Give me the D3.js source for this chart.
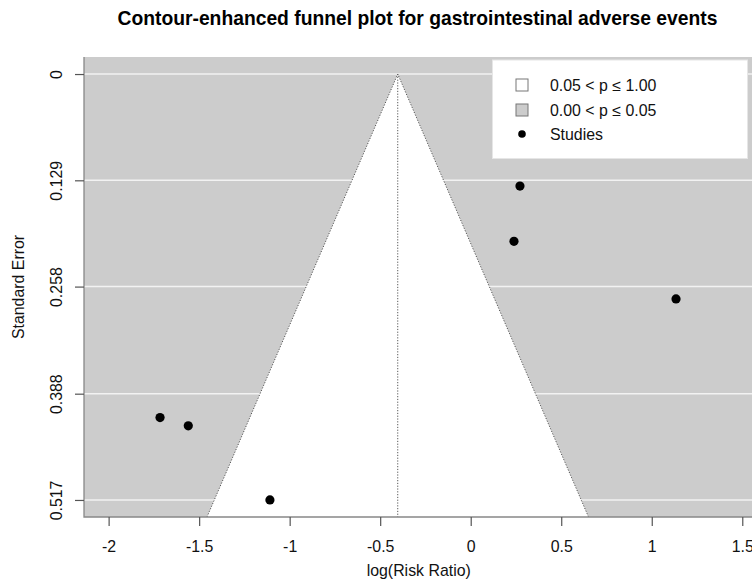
<!DOCTYPE html>
<html>
<head>
<meta charset="utf-8">
<script src="https://cdn.jsdelivr.net/npm/d3@7"></script>
<style>
  html, body { margin: 0; padding: 0; background: #fff; }
  svg { display: block; font-family: "Liberation Sans", Arial, Helvetica, sans-serif; }
</style>
</head>
<body>
<svg id="chart" width="752" height="580"></svg>
<script>
// Study estimates (log risk ratio) and their standard errors
const studyLogRR = [0.272, 0.239, 1.134, -1.716, -1.560, -1.109];
const studySE    = [0.136, 0.203, 0.273, 0.417, 0.427, 0.517];

// Pooled estimate used as the funnel's reference line
const pooledEstimate = -0.403;
const zCrit = 1.959964;

// Axis ticks
const xTickValues = [-2, -1.5, -1, -0.5, 0, 0.5, 1, 1.5];
const xTickLabels = ["-2", "-1.5", "-1", "-0.5", "0", "0.5", "1", "1.5"];
const seTickValues = [0, 0.129, 0.258, 0.388, 0.517];
const seTickLabels = ["0", "0.129", "0.258", "0.388", "0.517"];

// Legend entries
const legendLabels = ["0.05 < p \u2264 1.00", "0.00 < p \u2264 0.05", "Studies"];

const svg = d3.select("#chart");
const pLeft = 84, pRight = 753.5, pTop = 57, pBottom = 517;
const seMax = 0.517;
const sePad = seMax * 0.04;

const x = d3.scaleLinear().domain([-2.136, 1.562]).range([pLeft, pRight]);
const y = d3.scaleLinear().domain([-sePad, seMax + sePad]).range([pTop, pBottom]);
const seBottom = y.invert(pBottom);

const grey = "#cccccc";
const baseFont = 15.9;

// Shaded background (significant region)
const plot = svg.append("g");
plot.append("defs").append("clipPath").attr("id", "plotClip")
  .append("rect").attr("x", pLeft).attr("y", pTop).attr("width", pRight - pLeft).attr("height", pBottom - pTop);

const inner = plot.append("g").attr("clip-path", "url(#plotClip)");
inner.append("rect")
  .attr("x", pLeft).attr("y", pTop).attr("width", pRight - pLeft).attr("height", pBottom - pTop)
  .attr("fill", grey);

// White horizontal guide lines
inner.selectAll("line.grid").data(seTickValues).join("line")
  .attr("class", "grid")
  .attr("x1", pLeft).attr("x2", pRight)
  .attr("y1", d => y(d)).attr("y2", d => y(d))
  .attr("stroke", "#f2f2f2").attr("stroke-width", 1.5);

// Non-significant funnel region
const funnelPts = [
  [pooledEstimate, 0],
  [pooledEstimate - zCrit * seBottom, seBottom],
  [pooledEstimate + zCrit * seBottom, seBottom]
];
inner.append("path")
  .attr("d", d3.line().x(d => x(d[0])).y(d => y(d[1]))(funnelPts) + "Z")
  .attr("fill", "#ffffff");

// Funnel outline (dotted)
const dotted = "1.2,1.6";
inner.append("path")
  .attr("d", d3.line().x(d => x(d[0])).y(d => y(d[1]))([funnelPts[1], funnelPts[0], funnelPts[2]]))
  .attr("fill", "none").attr("stroke", "#555").attr("stroke-width", 1)
  .attr("stroke-dasharray", dotted);
inner.append("line")
  .attr("x1", x(pooledEstimate)).attr("x2", x(pooledEstimate))
  .attr("y1", y(0)).attr("y2", y(seBottom))
  .attr("stroke", "#555").attr("stroke-width", 1).attr("stroke-dasharray", dotted);

// Studies
inner.selectAll("circle.study").data(studyLogRR.map((v, i) => [v, studySE[i]])).join("circle")
  .attr("class", "study")
  .attr("cx", d => x(d[0])).attr("cy", d => y(d[1])).attr("r", 4.6)
  .attr("fill", "#000");

// Axis lines (L-shaped box)
svg.append("path")
  .attr("d", `M${pLeft},${pTop}V${pBottom}H${pRight}`)
  .attr("fill", "none").attr("stroke", "#888").attr("stroke-width", 1.3);

// X axis
const xAxis = svg.append("g").attr("transform", `translate(0,${pBottom})`)
  .call(d3.axisBottom(x).tickValues(xTickValues).tickFormat((d, i) => xTickLabels[i]).tickSize(9).tickPadding(0));
xAxis.select(".domain").remove();
xAxis.selectAll(".tick line").attr("stroke", "#555").attr("stroke-width", 1.2);
xAxis.selectAll(".tick text")
  .attr("y", 35).attr("dy", null)
  .attr("font-size", baseFont).attr("fill", "#111")
  .attr("font-family", "'Liberation Sans', Arial, Helvetica, sans-serif");

// Y axis
const yAxis = svg.append("g").attr("transform", `translate(${pLeft},0)`)
  .call(d3.axisLeft(y).tickValues(seTickValues).tickFormat((d, i) => seTickLabels[i]).tickSize(9).tickPadding(0));
yAxis.select(".domain").remove();
yAxis.selectAll(".tick line").attr("stroke", "#555").attr("stroke-width", 1.2);
yAxis.selectAll(".tick text")
  .attr("x", null).attr("dy", null)
  .attr("transform", "translate(-22,0) rotate(-90)")
  .attr("text-anchor", "middle")
  .attr("font-size", baseFont).attr("fill", "#111")
  .attr("font-family", "'Liberation Sans', Arial, Helvetica, sans-serif");

// Axis titles
svg.append("text")
  .attr("x", (pLeft + pRight) / 2).attr("y", 576)
  .attr("text-anchor", "middle").attr("font-size", baseFont).attr("fill", "#111")
  .text("log(Risk Ratio)");
svg.append("text")
  .attr("transform", `translate(23.5,${(pTop + pBottom) / 2}) rotate(-90)`)
  .attr("text-anchor", "middle").attr("font-size", baseFont).attr("fill", "#111")
  .text("Standard Error");

// Main title
svg.append("text")
  .attr("x", 417.5).attr("y", 24.5)
  .attr("text-anchor", "middle").attr("font-size", 19.3).attr("font-weight", "bold").attr("fill", "#000")
  .text("Contour-enhanced funnel plot for gastrointestinal adverse events");

// Legend
const lg = svg.append("g");
lg.append("rect")
  .attr("x", 492.5).attr("y", 60).attr("width", 255).attr("height", 98.5)
  .attr("fill", "#fff").attr("stroke", "#e6e6e6").attr("stroke-width", 1);
const rowY = [85, 110, 134];
lg.append("rect").attr("x", 516).attr("y", rowY[0] - 6).attr("width", 12).attr("height", 12)
  .attr("fill", "#fff").attr("stroke", "#777").attr("stroke-width", 1);
lg.append("rect").attr("x", 516).attr("y", rowY[1] - 6).attr("width", 12).attr("height", 12)
  .attr("fill", grey).attr("stroke", "#777").attr("stroke-width", 1);
lg.append("circle").attr("cx", 522).attr("cy", rowY[2]).attr("r", 3.8).attr("fill", "#000");
lg.selectAll("text").data(legendLabels).join("text")
  .attr("x", 550).attr("y", (d, i) => rowY[i] + 5.5)
  .attr("font-size", baseFont).attr("fill", "#111")
  .text(d => d);
</script>
</body>
</html>
